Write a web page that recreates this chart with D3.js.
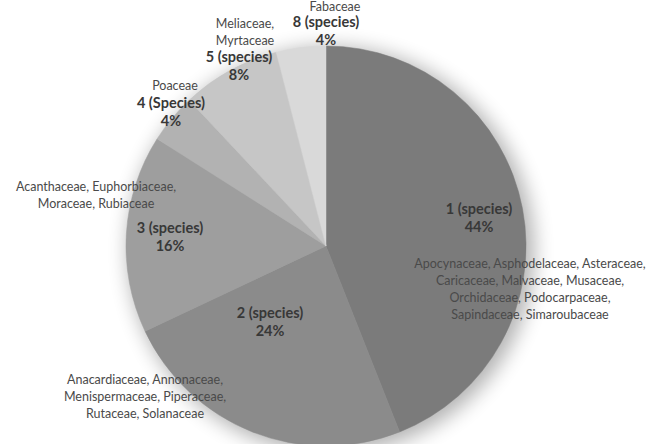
<!DOCTYPE html>
<html>
<head>
<meta charset="utf-8">
<script src="https://cdn.jsdelivr.net/npm/d3@7"></script>
<style>
  body { margin: 0; background: #fff; }
  svg { display: block; }
</style>
</head>
<body>
<svg id="chart" width="649" height="444"></svg>
<script>
// slices, clockwise from 12 o'clock
var groups   = ["1 (species)", "2 (species)", "3 (species)", "4 (Species)", "5 (species)", "8 (species)"];
var percents = [44, 24, 16, 4, 8, 4];
var families = [
  ["Apocynaceae, Asphodelaceae, Asteraceae,", "Caricaceae, Malvaceae, Musaceae,", "Orchidaceae, Podocarpaceae,", "Sapindaceae, Simaroubaceae"],
  ["Anacardiaceae, Annonaceae,", "Menispermaceae, Piperaceae,", "Rutaceae, Solanaceae"],
  ["Acanthaceae, Euphorbiaceae,", "Moraceae, Rubiaceae"],
  ["Poaceae"],
  ["Meliaceae,", "Myrtaceae"],
  ["Fabaceae"]
];
var colors = ["#7b7b7b", "#8b8b8b", "#9e9e9e", "#b2b2b2", "#c6c6c6", "#d9d9d9"];

var width = 649, height = 444;
var cx = 326, cy = 246, radius = 200;

// where the text blocks sit (offset from pie centre)
var labelAt  = [[153, -37], [-56, 314 - 246 - 1], [-156, -18], [-155, 103 - 246], [-87, 57 - 246], [0, 22 - 246]];
var familyAt = [[204, 264 - 246], [-181, 380 - 246], [-230, 187 - 246], [-151, 86 - 246], [-81, 24 - 246], [9, 7 - 246]];

var svg = d3.select("#chart");

var defs = svg.append("defs");
var f = defs.append("filter").attr("id", "shadow")
  .attr("x", "-20%").attr("y", "-20%").attr("width", "140%").attr("height", "140%");
f.append("feGaussianBlur").attr("stdDeviation", 10);

var g = svg.append("g").attr("transform", "translate(" + cx + "," + cy + ")");

g.append("circle")
  .attr("cx", 5).attr("cy", 4).attr("r", radius + 3)
  .attr("fill", "#000").attr("opacity", 0.3)
  .attr("filter", "url(#shadow)");

var pie = d3.pie().sort(null).value(function(d) { return d; });
var arc = d3.arc().innerRadius(0).outerRadius(radius);

g.selectAll("path.slice")
  .data(pie(percents))
  .enter().append("path")
  .attr("class", "slice")
  .attr("d", arc)
  .attr("fill", function(d, i) { return colors[i]; })
  .attr("stroke", function(d, i) { return colors[i]; })
  .attr("stroke-width", 0.5);

var lineH = 17;

groups.forEach(function(name, i) {
  var p = labelAt[i];
  var t = g.append("text")
    .attr("text-anchor", "middle")
    .style("font-family", "Lato, 'Open Sans', sans-serif")
    .style("font-size", "14.5px")
    .style("font-weight", "bold")
    .attr("fill", "#383838");
  t.append("tspan").attr("x", p[0]).attr("y", p[1]).attr("dy", "0.35em").text(name);
  t.append("tspan").attr("x", p[0]).attr("y", p[1] + lineH + 1).attr("dy", "0.35em").text(percents[i] + "%");

  var q = familyAt[i];
  var ft = g.append("text")
    .attr("text-anchor", "middle")
    .style("font-family", "Lato, 'Open Sans', sans-serif")
    .style("font-size", "12.5px")
    .attr("fill", "#4a4a4a");
  families[i].forEach(function(line, k) {
    ft.append("tspan").attr("x", q[0]).attr("y", q[1] + k * lineH).attr("dy", "0.35em").text(line);
  });
});
</script>
</body>
</html>
